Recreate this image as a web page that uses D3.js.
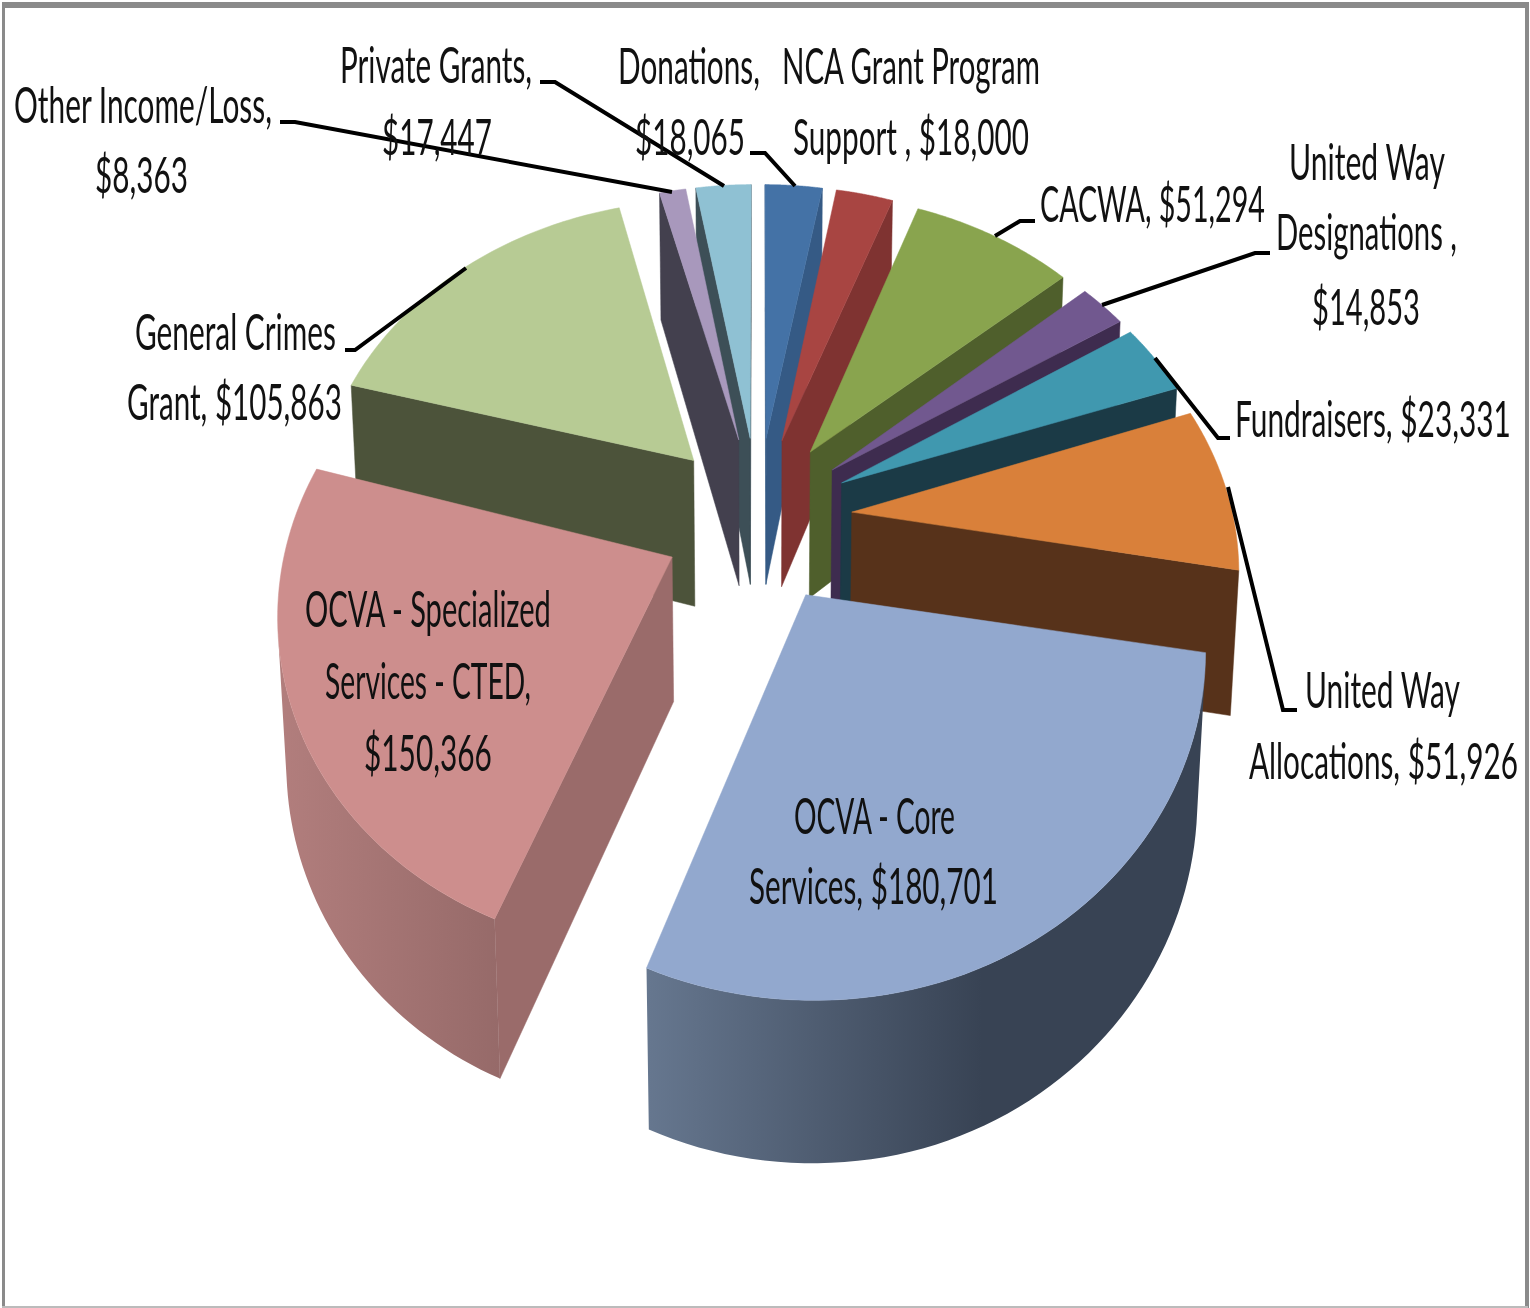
<!DOCTYPE html>
<html>
<head>
<meta charset="utf-8">
<script src="https://cdn.jsdelivr.net/npm/d3@7"></script>
<style>
  html, body { margin: 0; background: #fff; }
  svg { display: block; }
  text { font-family: Lato, "Open Sans", sans-serif; fill: #111; }
</style>
</head>
<body>
<div id="chart"></div>
<script>
// values, clockwise from 12 o'clock
const sources = ["Donations", "NCA Grant Program Support", "CACWA", "United Way Designations", "Fundraisers",
    "United Way Allocations", "OCVA - Core Services", "OCVA - Specialized Services - CTED", "General Crimes Grant",
    "Other Income/Loss", "Private Grants"];
const amounts = [18065, 18000, 51294, 14853, 23331, 51926, 180701, 150366, 105863, 8363, 17447];

// label wording, # is replaced with the formatted amount
const labelLines = [
    ["Donations,", "#"],
    ["NCA Grant Program", "Support , #"],
    ["CACWA, #"],
    ["United Way", "Designations ,", "#"],
    ["Fundraisers, #"],
    ["United Way", "Allocations, #"],
    ["OCVA - Core", "Services, #"],
    ["OCVA - Specialized", "Services - CTED,", "#"],
    ["General Crimes", "Grant, #"],
    ["Other Income/Loss,", "#"],
    ["Private Grants,", "#"]
];

// [left x, right x, baseline y] per label line
const labelBoxes = [
    [[618, 760, 84], [635, 745, 155]],
    [[782, 1040, 84], [793, 1029, 155]],
    [[1040, 1265, 222]],
    [[1289, 1445, 180], [1276, 1457, 250], [1312, 1420, 325]],
    [[1235, 1511, 437]],
    [[1305, 1460, 708], [1249, 1518, 779]],
    [[794, 955, 834], [749, 998, 904]],
    [[305, 551, 627], [325, 531, 699], [364, 492, 771]],
    [[135, 336, 350], [127, 342, 420]],
    [[14, 272, 123], [95, 188, 193]],
    [[340, 532, 83], [382, 492, 155]]
];

// leader lines, null where the label sits on its slice or has no line
const leaders = [
    [[750, 153], [765, 153], [795, 186]],
    null,
    [[1035, 221], [1020, 221], [995, 236]],
    [[1270, 253], [1255, 253], [1102, 305]],
    [[1230, 438], [1218, 438], [1155, 358]],
    [[1297, 710], [1283, 710], [1228, 487]],
    null,
    null,
    [[345, 350], [355, 350], [466, 268]],
    [[280, 122], [295, 122], [672, 192]],
    [[540, 82], [555, 82], [724, 186]]
];

const topColors = ["#4472a6", "#a84542", "#89a44e", "#71588f", "#4098af", "#d9803a", "#92a8ce", "#cd8e8d", "#b7cb94", "#a898bc", "#8fc1d3"];
const sideColors = ["#355a85", "#7f3331", "#4f5f2c", "#3e2c4f", "#1b3a46", "#57321a", "#3a4759", "#9a6b6a", "#4c533a", "#43404e", "#3d4f57"];
const wallStart = ["#355a85", "#7f3331", "#4f5f2c", "#3e2c4f", "#1b3a46", "#57321a", "#66778f", "#b27e7d", "#4c533a", "#43404e", "#3d4f57"];
const wallEnd = ["#355a85", "#7f3331", "#4f5f2c", "#3e2c4f", "#1b3a46", "#57321a", "#384354", "#966a69", "#4c533a", "#43404e", "#3d4f57"];
const wallFade = [1, 1, 1, 1, 1, 1, 0.6, 1, 1, 1, 1];

const width = 1530, height = 1308;

// 3D pie geometry
const radius = 405, explode = 100, depth = 156;
const cx = 758, cy = 527;

// ground plane x/y (y away from viewer), z up from the top face
function project(x, y, z) {
    const w = 1.06 + 0.000376 * y - 0.00012 * z;
    const v = 0.8416 * y / w;
    // the reference's middle band sits a few pixels above a pure perspective
    const bump = 6 * Math.max(0, 1 - (v / 450) ** 2);
    return [cx + x / w, cy - v - 0.99 * z / w - bump];
}

const pie = d3.pie().sort(null).value(d => d).startAngle(0).endAngle(2 * Math.PI);
const line = d3.line();
const closed = pts => line(pts) + "Z";

const slices = pie(amounts).map(d => {
    const mid = (d.startAngle + d.endAngle) / 2;
    return {
        index: d.index,
        a0: d.startAngle,
        a1: d.endAngle,
        mid,
        ox: explode * Math.sin(mid),
        oy: explode * Math.cos(mid)
    };
});

const svg = d3.select("#chart").append("svg")
    .attr("width", width)
    .attr("height", height)
    .attr("viewBox", [0, 0, width, height])
    .style("filter", "blur(0.5px)");

const defs = svg.append("defs");

// picture frame
const frame = svg.append("g").attr("fill", "#8a8a8a");
frame.append("rect").attr("x", 2).attr("y", 2).attr("width", width - 4).attr("height", 6);
frame.append("rect").attr("x", 2).attr("y", 2).attr("width", 3).attr("height", height - 2);
frame.append("rect").attr("x", width - 5).attr("y", 2).attr("width", 4).attr("height", height - 2);
frame.append("rect").attr("x", 2).attr("y", height - 2).attr("width", width - 4).attr("height", 2).attr("fill", "#bbb");

// d3.polygonArea is negative for polygons running clockwise on screen
const facing = pts => d3.polygonArea(pts) < 0;

function drawSlice(g, s) {
    const i = s.index;
    const at = (r, a, z) => project(s.ox + r * Math.sin(a), s.oy + r * Math.cos(a), z);
    const angles = d3.range(0, 61).map(k => s.a0 + (s.a1 - s.a0) * k / 60);
    // inner tips of the far slices sit a little higher still
    const tipRise = 2 + 5 * Math.cos(s.mid);
    const tipTop = at(0, 0, tipRise), tipBottom = at(0, 0, -depth);

    // radial walls, only the ones facing the viewer
    const startWall = [at(radius, s.a0, 0), tipTop, tipBottom, at(radius, s.a0, -depth)];
    const endWall = [tipTop, at(radius, s.a1, 0), at(radius, s.a1, -depth), tipBottom];
    [startWall, endWall].forEach(w => {
        if (facing(w)) {
            g.append("path").attr("d", closed(w)).attr("fill", sideColors[i])
                .attr("stroke", sideColors[i]).attr("stroke-width", 0.5);
        }
    });

    // outer wall, the run of segments facing the viewer
    const front = angles.slice(1).map((a, k) => [angles[k], a])
        .filter(([a, b]) => facing([at(radius, b, 0), at(radius, a, 0), at(radius, a, -depth), at(radius, b, -depth)]));
    if (front.length) {
        const run = [front[0][0], ...front.map(f => f[1])];
        const wall = [...run.map(a => at(radius, a, 0)), ...run.slice().reverse().map(a => at(radius, a, -depth))];
        const xs = d3.extent(wall, p => p[0]);
        const id = "wall" + i;
        const grad = defs.append("linearGradient").attr("id", id)
            .attr("gradientUnits", "userSpaceOnUse")
            .attr("x1", xs[0]).attr("x2", xs[1]).attr("y1", 0).attr("y2", 0);
        grad.append("stop").attr("offset", 0).attr("stop-color", wallStart[i]);
        grad.append("stop").attr("offset", wallFade[i]).attr("stop-color", wallEnd[i]);
        grad.append("stop").attr("offset", 1).attr("stop-color", wallEnd[i]);
        g.append("path").attr("d", closed(wall)).attr("fill", `url(#${id})`);
    }

    // top face
    const face = [tipTop, ...angles.map(a => at(radius, a, 0))];
    g.append("path").attr("d", closed(face)).attr("fill", topColors[i])
        .attr("stroke", topColors[i]).attr("stroke-width", 0.5);
}

// far slices first, so nearer ones paint over them
const pieGroup = svg.append("g");
slices.slice().sort((a, b) => d3.descending(Math.cos(a.mid), Math.cos(b.mid)))
    .forEach(s => drawSlice(pieGroup.append("g").attr("class", "slice").attr("data-source", sources[s.index]), s));

// leaders
svg.append("g").attr("fill", "none").attr("stroke", "#000").attr("stroke-width", 4)
    .selectAll("path")
    .data(leaders.filter(d => d))
    .join("path")
    .attr("d", line);

// labels, squeezed sideways to the reference's tall narrow lettering
const money = d3.format("$,");
const labelGroup = svg.append("g").attr("font-size", 50);
labelLines.forEach((lines, i) => {
    lines.forEach((str, k) => {
        const [x0, x1, y] = labelBoxes[i][k];
        const t = labelGroup.append("text").text(str.replace("#", money(amounts[i])));
        const natural = t.node().getComputedTextLength();
        t.attr("transform", `translate(${x0},${y}) scale(${(x1 - x0) / natural},1)`);
    });
});
</script>
</body>
</html>
